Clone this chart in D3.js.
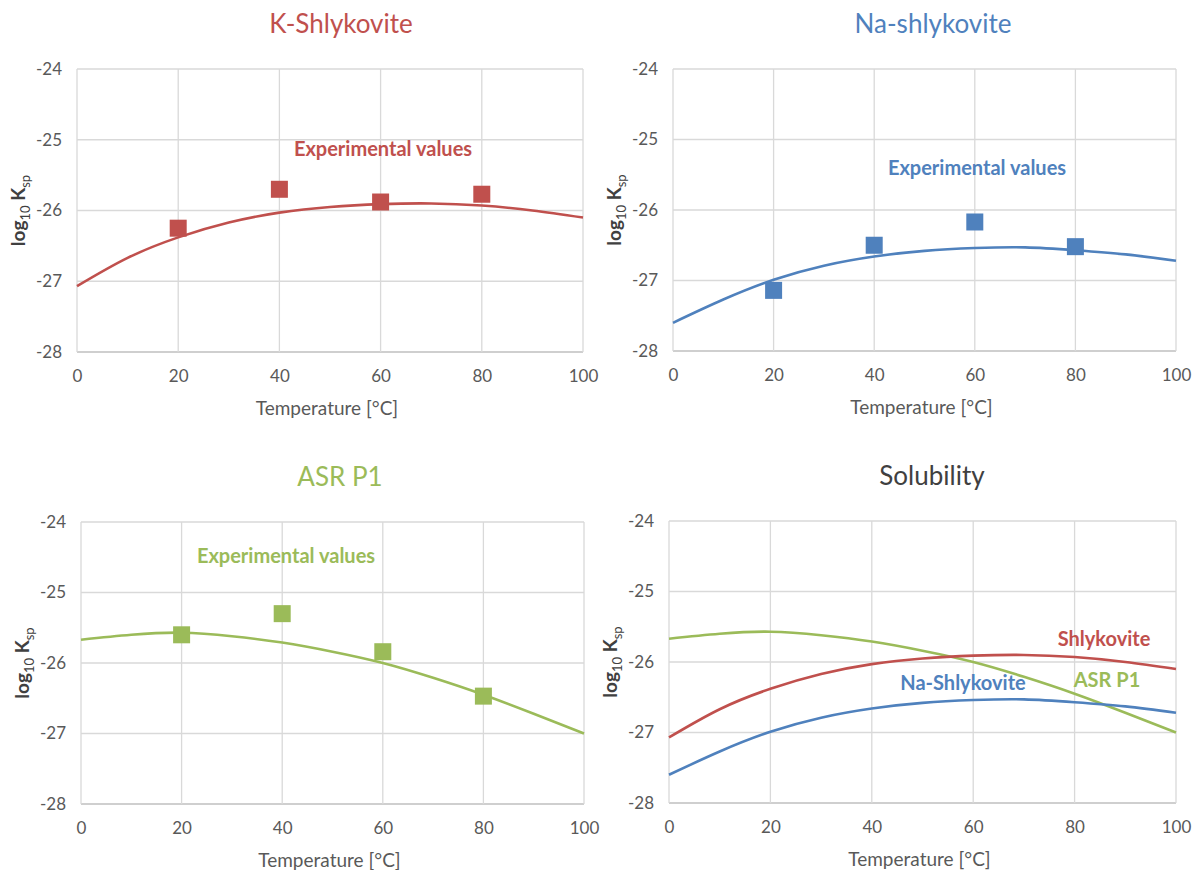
<!DOCTYPE html>
<html>
<head>
<meta charset="utf-8">
<script src="https://cdn.jsdelivr.net/npm/d3@7"></script>
<style>
    body { margin: 0; background: #fff; }
    text { font-family: Lato, "Open Sans", sans-serif; }
</style>
</head>
<body>
<svg width="1197" height="870"></svg>
<script>
// fitted curves, every 10 °C
const curveTemps = [0, 10, 20, 30, 40, 50, 60, 70, 80, 90, 100];
const kCurve   = [-27.07, -26.67, -26.38, -26.17, -26.03, -25.95, -25.91, -25.90, -25.93, -26.00, -26.10];
const naCurve  = [-27.60, -27.27, -26.99, -26.79, -26.66, -26.58, -26.54, -26.53, -26.57, -26.63, -26.72];
const asrCurve = [-25.67, -25.60, -25.57, -25.62, -25.71, -25.84, -26.00, -26.21, -26.45, -26.72, -27.00];

// experimental points
const expTemps = [20, 40, 60, 80];
const kExp   = [-26.25, -25.70, -25.88, -25.77];
const naExp  = [-27.14, -26.50, -26.17, -26.52];
const asrExp = [-25.60, -25.30, -25.84, -26.47];

const xTicks = [0, 20, 40, 60, 80, 100];
const yTicks = [-24, -25, -26, -27, -28];

const red = "#c0504d", blue = "#4f81bd", green = "#9bbb59";

const panels = [
    {title: "K-Shlykovite", color: red, tx: 341, x0: 77, x1: 583, y0: 69, y1: 352,
     series: [{vals: kCurve, color: red}], exp: kExp,
     note: {text: "Experimental values", x: 383, y: 156}},
    {title: "Na-shlykovite", color: blue, tx: 933, x0: 673, x1: 1176, y0: 69, y1: 351,
     series: [{vals: naCurve, color: blue}], exp: naExp,
     note: {text: "Experimental values", x: 977, y: 175}},
    {title: "ASR P1", color: green, tx: 340, x0: 81, x1: 584, y0: 522, y1: 804,
     series: [{vals: asrCurve, color: green}], exp: asrExp,
     note: {text: "Experimental values", x: 286, y: 563}},
    {title: "Solubility", color: "#404040", tx: 932, x0: 669, x1: 1176, y0: 521, y1: 803,
     series: [{vals: asrCurve, color: green}, {vals: kCurve, color: red}, {vals: naCurve, color: blue}],
     exp: null,
     labels: [
         {text: "Shlykovite", x: 1104, y: 646, color: red},
         {text: "ASR P1", x: 1107, y: 687, color: green},
         {text: "Na-Shlykovite", x: 963, y: 690, color: blue}
     ]}
];

const svg = d3.select("svg");

panels.forEach(p => {
    const x = d3.scaleLinear().domain([0, 100]).range([p.x0, p.x1]);
    const y = d3.scaleLinear().domain([-28, -24]).range([p.y1, p.y0]);
    const g = svg.append("g");
    const cx = (p.x0 + p.x1) / 2;

    // gridlines
    g.append("g").selectAll("line").data(yTicks).join("line")
        .attr("x1", p.x0).attr("x2", p.x1)
        .attr("y1", d => y(d)).attr("y2", d => y(d))
        .attr("stroke", d => d === -28 ? "#bfbfbf" : "#d9d9d9").attr("stroke-width", 1.3);
    g.append("g").selectAll("line").data(xTicks).join("line")
        .attr("y1", p.y0).attr("y2", p.y1)
        .attr("x1", d => x(d)).attr("x2", d => x(d))
        .attr("stroke", "#d9d9d9").attr("stroke-width", 1.3);

    // axes (labels only)
    const xAxis = g.append("g").attr("transform", `translate(0,${p.y1})`)
        .call(d3.axisBottom(x).tickValues(xTicks).tickSize(0).tickPadding(18));
    const yAxis = g.append("g").attr("transform", `translate(${p.x0},0)`)
        .call(d3.axisLeft(y).tickValues(yTicks).tickSize(0).tickPadding(15).tickFormat(d => String(d)));
    [xAxis, yAxis].forEach(a => {
        a.select(".domain").remove();
        a.selectAll("text").attr("fill", "#595959").style("font-size", "17px")
            .style("font-family", "Lato, 'Open Sans', sans-serif");
    });

    // curves
    const line = d3.line()
        .x((d, i) => x(curveTemps[i]))
        .y(d => y(d))
        .curve(d3.curveNatural);
    p.series.forEach(s => {
        g.append("path").datum(s.vals)
            .attr("d", line)
            .attr("fill", "none")
            .attr("stroke", s.color)
            .attr("stroke-width", 2.6);
    });

    // experimental points
    if (p.exp) {
        const sz = 17;
        g.append("g").selectAll("rect").data(p.exp).join("rect")
            .attr("x", (d, i) => x(expTemps[i]) - sz / 2)
            .attr("y", d => y(d) - sz / 2)
            .attr("width", sz).attr("height", sz)
            .attr("fill", p.color);
        g.append("text")
            .attr("x", p.note.x).attr("y", p.note.y)
            .attr("text-anchor", "middle")
            .attr("fill", p.color)
            .style("font-size", "20px").style("font-weight", "bold")
            .text(p.note.text);
    }
    if (p.labels) {
        g.selectAll("text.lbl").data(p.labels).join("text")
            .attr("class", "lbl")
            .attr("x", d => d.x).attr("y", d => d.y)
            .attr("text-anchor", "middle")
            .attr("fill", d => d.color)
            .style("font-size", "20px").style("font-weight", "bold")
            .text(d => d.text);
    }

    // title
    g.append("text")
        .attr("x", p.tx).attr("y", p.y0 - 36)
        .attr("text-anchor", "middle")
        .attr("fill", p.color)
        .style("font-size", "26px")
        .text(p.title);

    // x label
    g.append("text")
        .attr("x", cx - 3).attr("y", p.y1 + 63)
        .attr("text-anchor", "middle")
        .attr("fill", "#595959")
        .style("font-size", "19px")
        .text("Temperature [°C]");

    // y label: log10 Ksp
    const yl = g.append("text")
        .attr("transform", `translate(${p.x0 - 52},${(p.y0 + p.y1) / 2}) rotate(-90)`)
        .attr("text-anchor", "middle")
        .attr("fill", "#404040")
        .style("font-size", "19px").style("font-weight", "bold");
    yl.append("tspan").text("log");
    yl.append("tspan").attr("dy", 5).style("font-size", "13px").style("font-weight", "normal").text("10");
    yl.append("tspan").attr("dy", -5).text(" K");
    yl.append("tspan").attr("dy", 5).style("font-size", "13px").style("font-weight", "normal").text("sp");
});
</script>
</body>
</html>
